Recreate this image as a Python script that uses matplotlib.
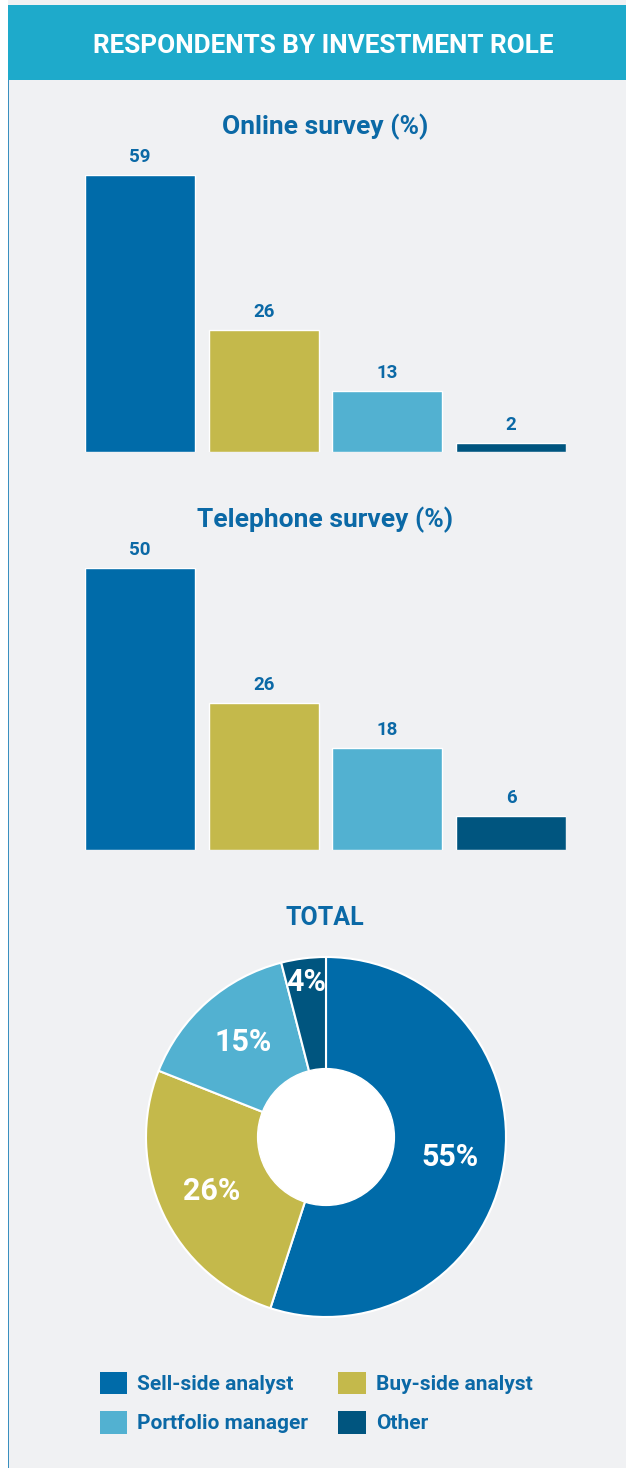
import matplotlib.pyplot as plt
from matplotlib.patches import Patch, Rectangle

plt.rcParams['font.family'] = ['Roboto', 'DejaVu Sans']
plt.rcParams['font.weight'] = 'bold'

roles = ['Sell-side analyst', 'Buy-side analyst', 'Portfolio manager', 'Other']
colors = ['#006ba9', '#c4b94b', '#52b1d1', '#00557f']
online = [59, 26, 13, 2]
telephone = [50, 26, 18, 6]
total = [55, 26, 15, 4]

W, H = 626, 1468
txt = '#0b69a6'
bg = '#f0f1f3'

fig = plt.figure(figsize=(W / 100, H / 100), dpi=100)
fig.patch.set_facecolor('white')


def box(x0, y0, x1, y1):
    # pixel box (top-left origin) -> figure fraction rect
    return [x0 / W, 1 - y1 / H, (x1 - x0) / W, (y1 - y0) / H]


# panel background, left border and header band
fig.patches.append(Rectangle((8 / W, 0), 1, 1, transform=fig.transFigure,
                             facecolor=bg, edgecolor='none', zorder=-3))
fig.patches.append(Rectangle((8 / W, 0), 1.2 / W, 1 - 5 / H, transform=fig.transFigure,
                             facecolor='#3a8fbf', edgecolor='none', zorder=-2))
fig.patches.append(Rectangle((8 / W, 1 - 80 / H), 1, 75 / H, transform=fig.transFigure,
                             facecolor='#1eaacb', edgecolor='none', zorder=-2))
fig.text(323 / W, 1 - 46 / H, 'RESPONDENTS BY INVESTMENT ROLE', color='white',
         fontsize=18.8, ha='center', va='center')


def bars(values, title, rect, title_y):
    ax = fig.add_axes(rect)
    x = range(len(values))
    ax.bar(x, values, width=0.89, color=colors, edgecolor='white', linewidth=1)
    ax.set_xlim(-0.4445, len(values) - 1 + 0.4445)
    ax.set_ylim(0, max(values))
    ax.axis('off')
    for i, v in zip(x, values):
        ax.annotate(str(v), (i, v), xytext=(0, 13), textcoords='offset points',
                    ha='center', va='center', color=txt, fontsize=13.5,
                    annotation_clip=False)
    fig.text(325 / W, 1 - title_y / H, title, color=txt, fontsize=19,
             ha='center', va='center')


bars(online, 'Online survey (%)', box(85, 175, 566, 452), 127)
bars(telephone, 'Telephone survey (%)', box(85, 568, 566, 850), 520)

fig.text(325 / W, 1 - 918 / H, 'TOTAL', color=txt, fontsize=18,
         ha='center', va='center')

ax = fig.add_axes(box(146, 957, 506, 1317))
wedges, _, pcts = ax.pie(total, colors=colors, startangle=90, counterclock=False,
                         radius=1, autopct='%d%%', pctdistance=0.7,
                         wedgeprops=dict(edgecolor='white', linewidth=1.5),
                         textprops=dict(color='white', fontsize=22))
# the small slice's label sits further out
r = 0.87
x, y = pcts[3].get_position()
d = (x * x + y * y) ** 0.5
pcts[3].set_position((x / d * r, y / d * r))
ax.add_patch(plt.Circle((0, 0), 0.38, color='white', zorder=3))
ax.set_xlim(-1, 1)
ax.set_ylim(-1, 1)
ax.set_aspect('equal')

handles = [Patch(facecolor=c, edgecolor='none') for c in colors]
order = [0, 2, 1, 3]
fig.legend([handles[i] for i in order], [roles[i] for i in order], ncol=2,
           loc='upper left', bbox_to_anchor=(81 / W, 1 - 1353 / H), frameon=False,
           fontsize=15, labelcolor=txt, handlelength=1.3, handleheight=1.3,
           handletextpad=0.5, columnspacing=1.45, labelspacing=0.8)

fig.savefig('out.png', dpi=100, facecolor=fig.get_facecolor())
